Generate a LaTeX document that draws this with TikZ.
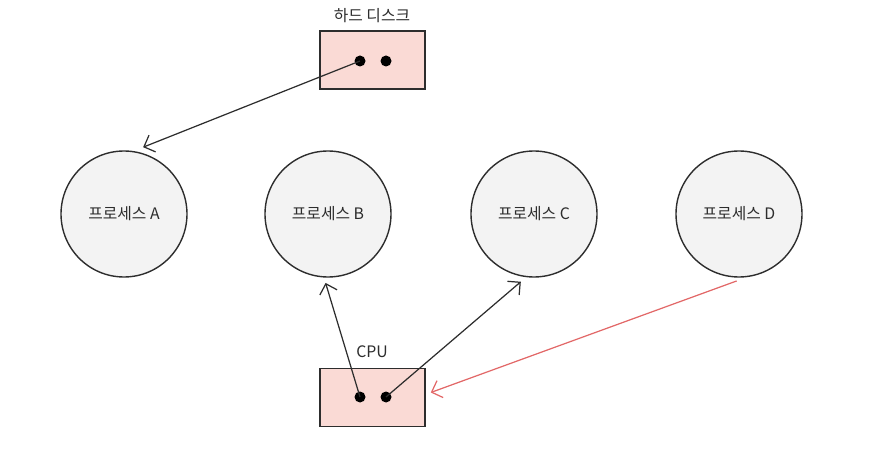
\documentclass[tikz,border=0pt]{standalone}
\usepackage{fontspec}
\setmainfont{Noto Sans CJK KR}
\usetikzlibrary{arrows.meta,calc}
\definecolor{boxpink}{RGB}{250,218,213}
\definecolor{procgray}{RGB}{243,243,243}
\definecolor{inkgray}{RGB}{45,45,45}
\definecolor{linkred}{RGB}{226,104,104}

\begin{document}
\begin{tikzpicture}[font=\small,>={Straight Barb[length=1.8mm,width=3.6mm]},
  proc/.style={draw=inkgray,line width=0.8pt,circle,fill=procgray,minimum size=2.52cm,inner sep=0pt,text=inkgray},
  dev/.style={draw=inkgray,line width=0.9pt,fill=boxpink,minimum width=2.1cm,minimum height=1.16cm,inner sep=0pt},
  dot/.style={circle,fill=black,minimum size=0.22cm,inner sep=0pt},
  link/.style={->,draw=inkgray,line width=0.7pt}]
  \useasboundingbox (0,0) rectangle (17.8,9);
  % hard disk
  \node[dev] (hd) at (7.45,7.8) {};
  \node[text=inkgray] (hdlabel) at (7.44,8.68) {하드 디스크};
  \node[dot] (hd1) at (7.2,7.78) {};
  \node[dot] (hd2) at (7.72,7.78) {};
  % processes
  \foreach \n/\x in {A/2.48,B/6.56,C/10.68,D/14.78}{
    \node[proc] (\n) at (\x,4.72) {프로세스 \n};}
  % CPU
  \node[dev] (cpu) at (7.45,1.05) {};
  \node[text=inkgray] (cpulabel) at (7.44,1.96) {CPU};
  \node[dot] (cpu1) at (7.2,1.06) {};
  \node[dot] (cpu2) at (7.72,1.06) {};
  % links
  \coordinate (atA) at ($(A.center)+(74:1.39)$);
  \coordinate (atB) at ($(B.center)+(-92:1.38)$);
  \coordinate (atC) at ($(C.center)+(-101:1.38)$);
  \coordinate (fromD) at ($(D.center)+(-92:1.34)$);
  \coordinate (atcpu) at ($(cpu.east)+(0.1,0.1)$);
  \draw[link] (hd1.center) -- (atA);
  \draw[link] (cpu1.center) -- (atB);
  \draw[link] (cpu2.center) -- (atC);
  \draw[link,draw=linkred] (fromD) -- (atcpu);
\end{tikzpicture}
\end{document}
